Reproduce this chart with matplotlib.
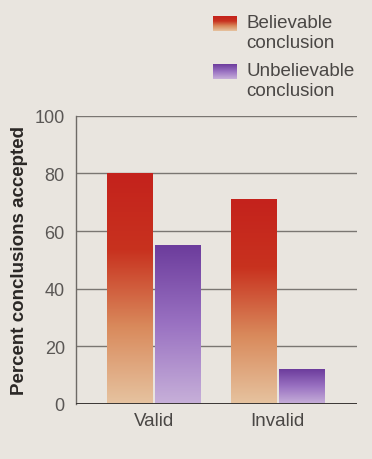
import numpy as np
import matplotlib
matplotlib.use('Agg')
import matplotlib.pyplot as plt
from matplotlib.colors import LinearSegmentedColormap

plt.rcParams['font.family'] = ['Liberation Sans', 'DejaVu Sans']

# Data
groups = ['Valid', 'Invalid']
believable = [80, 71]
unbelievable = [55, 12]
series_labels = ['Believable\nconclusion', 'Unbelievable\nconclusion']

bg = '#e9e5df'
red_cmap = LinearSegmentedColormap.from_list('red', ['#e6c3a0', '#d98a5c', '#c8321f', '#c4221c'])
purple_cmap = LinearSegmentedColormap.from_list('purple', ['#c7b0d9', '#9a72c2', '#6c3c9c'])

fig = plt.figure(figsize=(3.72, 4.6), dpi=100, facecolor=bg)
ax = fig.add_axes([0.204, 0.12, 0.756, 0.626], facecolor=bg)

x = np.arange(len(groups))
w = 0.37
grad = np.linspace(0, 1, 256).reshape(-1, 1)


def gradient_bars(xs, heights, cmap):
    for xc, h in zip(xs, heights):
        ax.imshow(grad, extent=[xc - w / 2, xc + w / 2, 0, h], origin='lower',
                  aspect='auto', cmap=cmap, zorder=3)


gradient_bars(x - w / 2 - 0.008, believable, red_cmap)
gradient_bars(x + w / 2 + 0.008, unbelievable, purple_cmap)

ax.set_xlim(-0.63, 1.64)
ax.set_ylim(0, 100)
ax.set_yticks([0, 20, 40, 60, 80, 100])
for yv in [20, 40, 60, 80, 100]:
    ax.axhline(yv, color='#7a7672', lw=1.0, zorder=1)
ax.axhline(0, color='#3a3634', lw=1.4, zorder=4)

for s in ['top', 'right', 'bottom']:
    ax.spines[s].set_visible(False)
ax.spines['left'].set_color('#6e6a66')
ax.spines['left'].set_linewidth(1.0)

ax.tick_params(axis='y', length=0, pad=8, labelsize=13, labelcolor='#5a5755')
ax.tick_params(axis='x', length=0, pad=6, labelsize=13.5, labelcolor='#4a4745')
ax.set_xticks(x)
ax.set_xticklabels(groups)
ax.set_ylabel('Percent conclusions accepted', fontsize=13.5, fontweight='bold',
              color='#2a2725', labelpad=5)

# legend with gradient swatches
for i, (lab, cmap) in enumerate(zip(series_labels, [red_cmap, purple_cmap])):
    top = 1 - (17 + i * 48) / 460
    sax = fig.add_axes([213 / 372, top - 15 / 460, 24 / 372, 15 / 460])
    sax.imshow(grad, origin='lower', aspect='auto', cmap=cmap)
    sax.axis('off')
    fig.text(246 / 372, top + 2 / 460, lab, fontsize=13.5, color='#4a4745',
             va='top', ha='left', linespacing=1.25)

fig.savefig('out.png', dpi=100, facecolor=bg)
